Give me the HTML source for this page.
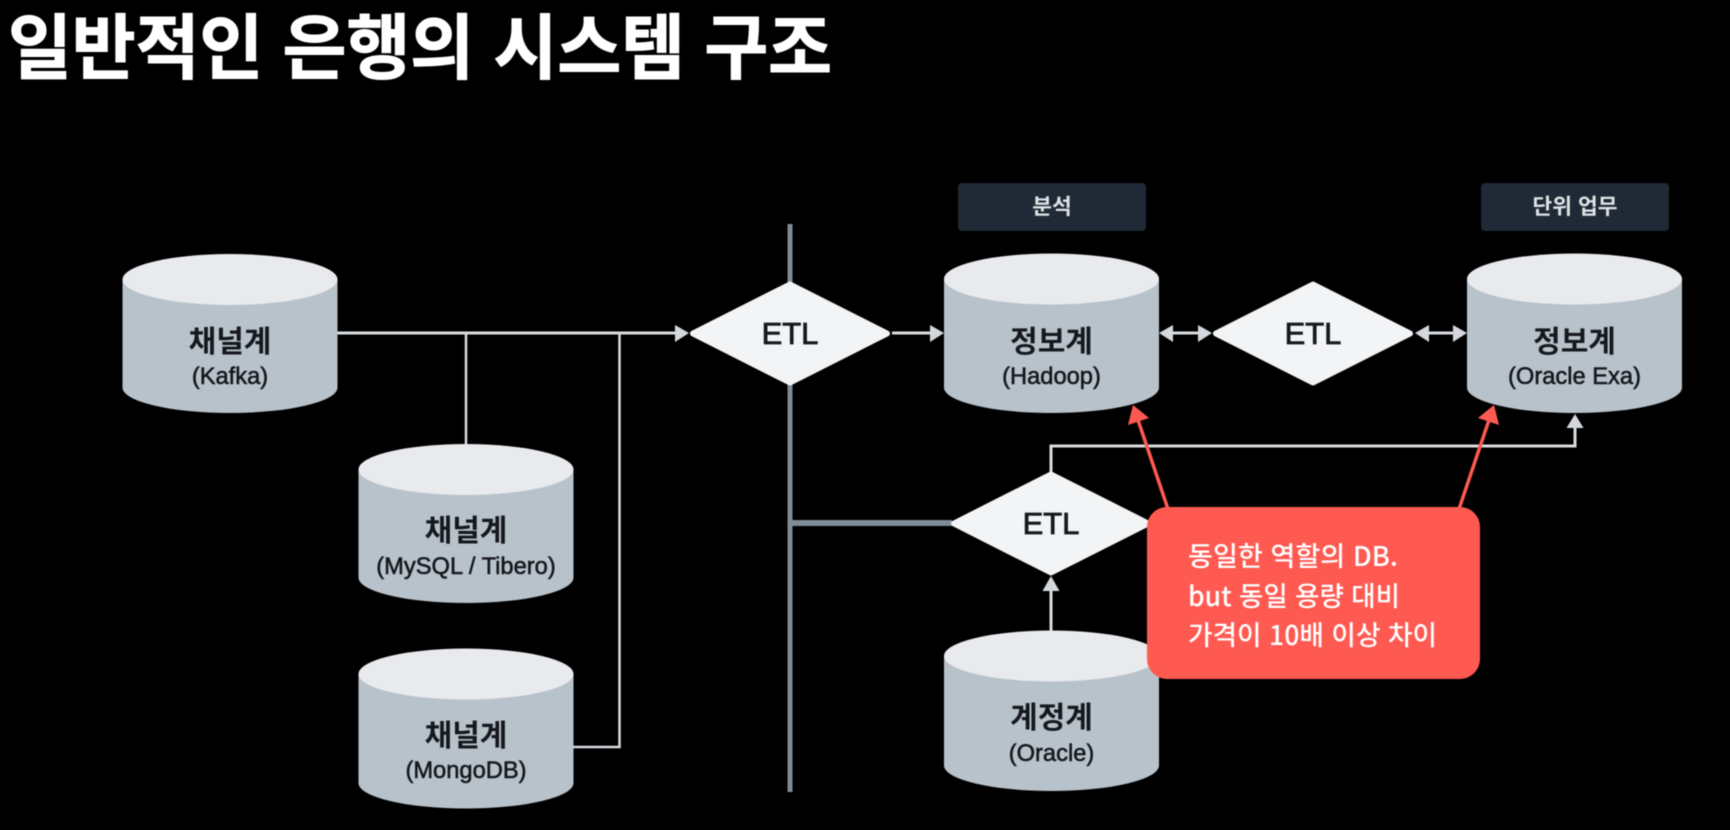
<!DOCTYPE html>
<html lang="ko">
<head>
<meta charset="utf-8">
<title>일반적인 은행의 시스템 구조</title>
<style>
html,body{margin:0;padding:0;background:#000;width:1730px;height:830px;overflow:hidden}
svg{display:block;filter:blur(.4px)}
text{font-family:"Liberation Sans","Noto Sans CJK KR",sans-serif}
.title{font-family:"Noto Sans CJK KR","Liberation Sans",sans-serif;font-size:71px;font-weight:700;fill:#fff;stroke:#fff;stroke-width:1}
.k{font-family:"Noto Sans CJK KR","Liberation Sans",sans-serif;font-size:30px;font-weight:700;fill:#15191e;text-anchor:middle}
.s{font-size:23.700px;fill:#15191e;text-anchor:middle;stroke:#15191e;stroke-width:.55}
.e{font-size:31px;fill:#15191e;text-anchor:middle;stroke:#15191e;stroke-width:.8}
.t{font-family:"Noto Sans CJK KR","Liberation Sans",sans-serif;font-size:21.500px;font-weight:700;fill:#dfe3e7;text-anchor:middle}
.r{font-family:"Noto Sans CJK KR","Liberation Sans",sans-serif;font-size:27px;font-weight:500;fill:#fff}
.body{fill:#b8c2ca}
.top{fill:#e8eaed}
.d{fill:#f3f4f6;stroke:#f3f4f6;stroke-width:6;stroke-linejoin:round}
.l{fill:none;stroke:#d8dce0;stroke-width:3}
.a{fill:#d4d8dc}
.g{fill:#7f8b96}
</style>
</head>
<body>
<svg width="1730" height="830" viewBox="0 0 1730 830" xmlns="http://www.w3.org/2000/svg">
<rect width="1730" height="830" fill="#000"/>
<text class="title" x="8" y="73" textLength="824" lengthAdjust="spacingAndGlyphs">일반적인 은행의 시스템 구조</text>

<!-- gray bus -->
<rect class="g" x="787.500" y="224" width="5" height="568"/>
<rect class="g" x="790" y="520" width="162" height="6"/>

<!-- connectors -->
<path class="l" d="M337 333H678"/>
<path class="l" style="stroke-width:2.500" d="M466 333V445"/>
<path class="l" style="stroke-width:2.500" d="M573 747H619.500V333"/>
<path class="a" d="M689 333L675 325V342Z"/>
<path class="l" d="M892 333H932"/>
<path class="a" d="M944 333L930 325V342Z"/>
<path class="l" d="M1170 333H1200"/>
<path class="a" d="M1159 333L1173 325V342Z"/>
<path class="a" d="M1212 333L1198 325V342Z"/>
<path class="l" d="M1426 333H1456"/>
<path class="a" d="M1415 333L1429 325V342Z"/>
<path class="a" d="M1467 333L1453 325V342Z"/>
<path class="l" d="M1051 472V446H1575V425"/>
<path class="a" d="M1575 414L1566.500 428H1583.500Z"/>
<path class="l" d="M1051 632V586"/>
<path class="a" d="M1051 576L1042.500 591H1059.500Z"/>

<!-- cylinders -->
<path class="body" d="M122.500 279.500V387.500A107.500 25.500 0 0 0 337.500 387.500V279.500Z"/>
<ellipse class="top" cx="230" cy="279.500" rx="107.500" ry="25.500"/>
<path class="body" d="M358.500 469.500V577.500A107.500 25.500 0 0 0 573.500 577.500V469.500Z"/>
<ellipse class="top" cx="466" cy="469.500" rx="107.500" ry="25.500"/>
<path class="body" d="M358.500 674V783A107.500 25.500 0 0 0 573.500 783V674Z"/>
<ellipse class="top" cx="466" cy="674" rx="107.500" ry="25.500"/>
<path class="body" d="M944 279V387.500A107.500 25.500 0 0 0 1159 387.500V279Z"/>
<ellipse class="top" cx="1051.500" cy="279" rx="107.500" ry="25.500"/>
<path class="body" d="M1467 279V387.500A107.500 25.500 0 0 0 1682 387.500V279Z"/>
<ellipse class="top" cx="1574.500" cy="279" rx="107.500" ry="25.500"/>
<path class="body" d="M944 656V765.500A107.500 25.500 0 0 0 1159 765.500V656Z"/>
<ellipse class="top" cx="1051.500" cy="656" rx="107.500" ry="25.500"/>

<!-- cylinder labels -->
<text class="k" x="230" y="352">채널계</text>
<text class="s" x="230" y="384">(Kafka)</text>
<text class="k" x="466" y="541">채널계</text>
<text class="s" x="466" y="574">(MySQL / Tibero)</text>
<text class="k" x="466" y="746">채널계</text>
<text class="s" x="466" y="778">(MongoDB)</text>
<text class="k" x="1051.500" y="352">정보계</text>
<text class="s" x="1051.500" y="384">(Hadoop)</text>
<text class="k" x="1574.500" y="352">정보계</text>
<text class="s" x="1574.500" y="384">(Oracle Exa)</text>
<text class="k" x="1051.500" y="728">계정계</text>
<text class="s" x="1051.500" y="761">(Oracle)</text>

<!-- diamonds -->
<path class="d" d="M790 284.500L887 333.500L790 382.500L693 333.500Z"/>
<text class="e" x="790" y="344">ETL</text>
<path class="d" d="M1313 284.500L1410 333.500L1313 382.500L1216 333.500Z"/>
<text class="e" x="1313" y="344">ETL</text>
<path class="d" d="M1051 474.500L1148 523.500L1051 572.500L954 523.500Z"/>
<text class="e" x="1051" y="534">ETL</text>

<!-- tags -->
<rect x="958" y="183" width="188" height="48" rx="4" fill="#1f2a36"/>
<text class="t" x="1052" y="214">분석</text>
<rect x="1481" y="183" width="188" height="48" rx="4" fill="#1f2a36"/>
<text class="t" x="1575" y="214">단위 업무</text>

<!-- red arrows and note -->
<path d="M1168 509L1138 420M1459 509L1489 420" fill="none" stroke="#ff5a52" stroke-width="3.500"/>
<path d="M1133 405L1149 418L1128 425Z" fill="#ff5a52"/>
<path d="M1494 405L1478 418L1499 425Z" fill="#ff5a52"/>
<rect x="1147" y="507" width="333" height="172" rx="20" fill="#ff5a52"/>
<text class="r" x="1188" y="566" textLength="210" lengthAdjust="spacingAndGlyphs">동일한 역할의 DB.</text>
<text class="r" x="1188" y="606" textLength="212" lengthAdjust="spacingAndGlyphs">but 동일 용량 대비</text>
<text class="r" x="1188" y="645" textLength="249" lengthAdjust="spacingAndGlyphs">가격이 10배 이상 차이</text>
</svg>
</body>
</html>
